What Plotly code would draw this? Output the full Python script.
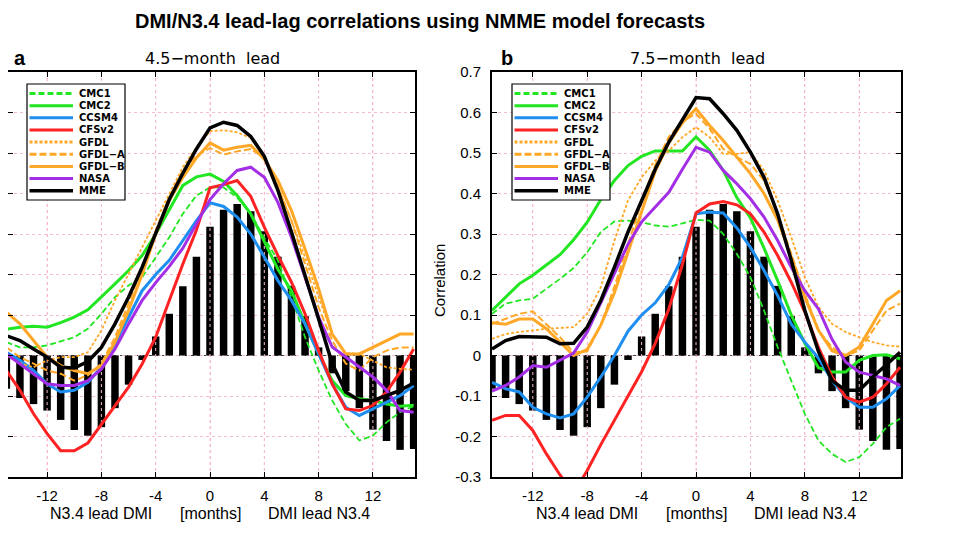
import plotly.graph_objects as go

# lag in months (negative: N3.4 leads DMI)
lags = [-15, -14, -13, -12, -11, -10, -9, -8, -7, -6, -5, -4, -3, -2, -1, 0,
        1, 2, 3, 4, 5, 6, 7, 8, 9, 10, 11, 12, 13, 14, 15]

# observed lead-lag correlation (bars), same in both panels
obs = [-0.082, -0.105, -0.12, -0.136, -0.159, -0.184, -0.198, -0.177, -0.13, -0.072, -0.011,
       0.047, 0.103, 0.171, 0.244, 0.318, 0.36, 0.374, 0.356, 0.307, 0.244, 0.172, 0.097,
       0.02, -0.044, -0.088, -0.13, -0.183, -0.211, -0.233, -0.231]

# === 4.5-month lead ===
cmc1_45 = [0.033, 0.02, 0.02, 0.025, 0.035, 0.045, 0.066, 0.103, 0.144, 0.173, 0.193, 0.243, 0.292,
           0.35, 0.395, 0.415, 0.415, 0.39, 0.35, 0.29, 0.235, 0.144, 0.045, -0.037, -0.111,
           -0.169, -0.21, -0.198, -0.165, -0.14, -0.125]
cmc2_45 = [0.065, 0.07, 0.072, 0.07, 0.081, 0.095, 0.113, 0.144, 0.177, 0.21, 0.247, 0.3, 0.36,
           0.42, 0.441, 0.448, 0.43, 0.395, 0.35, 0.283, 0.213, 0.16, 0.078, 0.004, -0.062,
           -0.099, -0.107, -0.111, -0.12, -0.125, -0.123]
ccsm4_45 = [0.008, -0.012, -0.037, -0.07, -0.09, -0.086, -0.066, -0.029, 0.029, 0.095, 0.16, 0.2,
            0.235, 0.284, 0.333, 0.377, 0.368, 0.342, 0.3, 0.243, 0.185, 0.136, 0.078, 0.004,
            -0.07, -0.128, -0.148, -0.132, -0.115, -0.099, -0.074]
cfsv2_45 = [-0.037, -0.086, -0.144, -0.193, -0.235, -0.235, -0.216, -0.169, -0.123, -0.078, -0.021,
            0.045, 0.136, 0.226, 0.31, 0.414, 0.422, 0.432, 0.393, 0.317, 0.247, 0.181, 0.103,
            0.012, -0.07, -0.132, -0.136, -0.123, -0.09, -0.041, 0.016]
gfdl_45 = [0.0, -0.019, -0.029, -0.012, -0.004, -0.004, 0.008, 0.062, 0.136, 0.2, 0.267, 0.333,
           0.4, 0.465, 0.514, 0.554, 0.556, 0.551, 0.537, 0.49, 0.416, 0.333, 0.243, 0.144, 0.053,
           0.006, 0.004, -0.012, -0.029, -0.033, -0.035]
gfdla_45 = [0.02, -0.004, -0.02, -0.037, -0.045, -0.062, -0.049, -0.02, 0.045, 0.128, 0.218, 0.309,
            0.39, 0.457, 0.494, 0.512, 0.496, 0.504, 0.51, 0.488, 0.416, 0.333, 0.226, 0.119,
            0.037, -0.02, -0.037, -0.004, 0.012, 0.02, 0.02]
gfdlb_45 = [0.107, 0.078, 0.037, -0.004, -0.025, -0.037, -0.045, -0.025, 0.033, 0.111, 0.2, 0.3,
            0.383, 0.44, 0.488, 0.525, 0.507, 0.514, 0.519, 0.485, 0.432, 0.358, 0.263, 0.165,
            0.053, 0.004, 0.004, 0.02, 0.037, 0.053, 0.053]
nasa_45 = [0.004, -0.02, -0.045, -0.07, -0.074, -0.074, -0.062, -0.033, 0.016, 0.078, 0.136, 0.18,
           0.22, 0.265, 0.325, 0.385, 0.424, 0.457, 0.465, 0.44, 0.378, 0.292, 0.193, 0.095,
           0.021, -0.004, -0.029, -0.053, -0.086, -0.136, -0.14]
mme_45 = [0.049, 0.037, 0.016, -0.004, -0.029, -0.031, -0.015, 0.02, 0.078, 0.144, 0.218, 0.3,
          0.385, 0.45, 0.51, 0.562, 0.576, 0.568, 0.541, 0.492, 0.408, 0.305, 0.2, 0.09, -0.02,
          -0.09, -0.111, -0.111, -0.099, -0.086, -0.068]

# === 7.5-month lead ===
cmc1_75 = [0.103, 0.128, 0.136, 0.14, 0.165, 0.189, 0.216, 0.255, 0.305, 0.331, 0.333, 0.329,
           0.321, 0.318, 0.326, 0.335, 0.333, 0.3, 0.251, 0.193, 0.111, 0.021, -0.062, -0.144,
           -0.21, -0.243, -0.263, -0.251, -0.218, -0.177, -0.156]
cmc2_75 = [0.111, 0.144, 0.177, 0.198, 0.224, 0.249, 0.286, 0.329, 0.385, 0.432, 0.469, 0.492,
           0.505, 0.505, 0.505, 0.54, 0.506, 0.457, 0.39, 0.34, 0.265, 0.185, 0.1, 0.03, -0.03,
           -0.041, -0.041, -0.012, 0.0, 0.002, -0.008]
ccsm4_75 = [-0.066, -0.082, -0.09, -0.128, -0.144, -0.154, -0.144, -0.103, -0.053, 0.0, 0.06, 0.1,
            0.13, 0.175, 0.243, 0.35, 0.354, 0.352, 0.315, 0.267, 0.21, 0.148, 0.078, 0.033,
            -0.006, -0.062, -0.103, -0.128, -0.128, -0.107, -0.074]
cfsv2_75 = [-0.16, -0.148, -0.148, -0.185, -0.243, -0.295, -0.34, -0.284, -0.22, -0.16, -0.1,
            -0.04, 0.03, 0.115, 0.225, 0.352, 0.374, 0.38, 0.372, 0.35, 0.305, 0.247, 0.181,
            0.107, 0.02, -0.053, -0.103, -0.115, -0.103, -0.07, -0.029]
gfdl_75 = [0.041, 0.053, 0.058, 0.062, 0.066, 0.068, 0.07, 0.103, 0.169, 0.284, 0.383, 0.44, 0.481,
           0.506, 0.539, 0.564, 0.539, 0.498, 0.498, 0.502, 0.457, 0.383, 0.292, 0.193, 0.12,
           0.078, 0.058, 0.045, 0.033, 0.025, 0.022]
gfdla_75 = [0.078, 0.09, 0.103, 0.109, 0.078, 0.045, 0.008, 0.01, 0.075, 0.17, 0.275, 0.38, 0.47,
            0.54, 0.578, 0.597, 0.56, 0.51, 0.49, 0.473, 0.432, 0.35, 0.251, 0.152, 0.062, 0.02,
            0.0, 0.012, 0.062, 0.111, 0.128]
gfdlb_75 = [0.081, 0.077, 0.09, 0.09, 0.066, 0.033, 0.0, 0.015, 0.075, 0.155, 0.255, 0.36, 0.455,
            0.525, 0.575, 0.609, 0.568, 0.531, 0.49, 0.449, 0.4, 0.335, 0.243, 0.144, 0.062,
            0.012, 0.0, 0.021, 0.078, 0.136, 0.16]
nasa_75 = [-0.088, -0.074, -0.053, -0.025, -0.029, -0.012, 0.006, 0.058, 0.13, 0.205, 0.275, 0.33,
           0.366, 0.403, 0.46, 0.514, 0.502, 0.457, 0.424, 0.387, 0.342, 0.284, 0.218, 0.16,
           0.115, 0.04, -0.016, -0.041, -0.049, -0.058, -0.074]
mme_75 = [0.016, 0.037, 0.047, 0.047, 0.045, 0.029, 0.03, 0.07, 0.136, 0.218, 0.305, 0.382, 0.46,
          0.527, 0.582, 0.637, 0.634, 0.597, 0.556, 0.502, 0.44, 0.35, 0.235, 0.111, 0.01,
          -0.062, -0.086, -0.086, -0.053, -0.021, 0.008]

models = ["CMC1", "CMC2", "CCSM4", "CFSv2", "GFDL", "GFDL−A", "GFDL−B", "NASA", "MME"]
lead45 = [cmc1_45, cmc2_45, ccsm4_45, cfsv2_45, gfdl_45, gfdla_45, gfdlb_45, nasa_45, mme_45]
lead75 = [cmc1_75, cmc2_75, ccsm4_75, cfsv2_75, gfdl_75, gfdla_75, gfdlb_75, nasa_75, mme_75]

# (colour, width, dash) per model
styles = [
    ("#22e622", 1.8, "6px,3px"),
    ("#22e622", 3, "solid"),
    ("#1e8ff0", 3, "solid"),
    ("#ff2222", 3, "solid"),
    ("#ffa726", 1.8, "3px,2px"),
    ("#ffa726", 2, "7px,3px"),
    ("#ffa726", 3, "solid"),
    ("#a32ee6", 3, "solid"),
    ("#000000", 3.5, "solid"),
]

xticks = [-12, -8, -4, 0, 4, 8, 12]
xticktext = ["-12", "-8", "-4", "0", "4", "8", "12"]
yticks = [-0.3, -0.2, -0.1, 0, 0.1, 0.2, 0.3, 0.4, 0.5, 0.6, 0.7]
yticktext = ["-0.3", "-0.2", "-0.1", "0", "0.1", "0.2", "0.3", "0.4", "0.5", "0.6", "0.7"]
yrange = [-0.3, 0.7]

# the page body adds an 8 px margin, so the figure is laid out 8 px smaller/shifted
OFF = 8
W, H = 960 - OFF, 540 - OFF
def px(x):
    return max(0.0, (x - OFF) / W)
def py(y):
    return 1 - (y - OFF) / H

grid = "#f5bccd"

fig = go.Figure()

# vertical grid lines show through the black bars in the original, so they go on top of them
grid_x, grid_y = [], []
for t in xticks:
    grid_x += [t, t, None]
    grid_y += [yrange[0], yrange[1], None]

panels = [("x", "y", lead45), ("x2", "y2", lead75)]
for xa, ya, series in panels:
    fig.add_trace(go.Bar(x=lags, y=obs, width=0.55, marker_color="black",
                         marker_line_width=0, xaxis=xa, yaxis=ya, showlegend=False))
    fig.add_trace(go.Scatter(x=grid_x, y=grid_y, mode="lines", hoverinfo="skip",
                             line=dict(color=grid, width=1, dash="3px,3px"),
                             xaxis=xa, yaxis=ya, showlegend=False))
    for name, vals, (col, w, dash) in zip(models, series, styles):
        fig.add_trace(go.Scatter(x=lags, y=vals, mode="lines", name=name,
                                 line=dict(color=col, width=w, dash=dash),
                                 xaxis=xa, yaxis=ya, showlegend=False))

axis_common = dict(showline=True, linewidth=2, linecolor="black", mirror="ticks",
                   ticks="inside", ticklen=5, tickwidth=1, tickcolor="black",
                   showgrid=True, gridcolor=grid, gridwidth=1, griddash="3px,3px",
                   zeroline=False, automargin=False,
                   tickfont=dict(family="Liberation Sans", size=15, color="black"))

yd = [py(477), py(72)]
fig.update_layout(
    width=W, height=H,
    margin=dict(l=0, r=0, t=0, b=0),
    paper_bgcolor="white", plot_bgcolor="white",
    xaxis=dict(domain=[px(OFF), px(415)], range=[-14.88, 15.1], tickvals=xticks,
               ticktext=xticktext, anchor="y", ticklabelstandoff=4, **axis_common),
    yaxis=dict(domain=yd, range=yrange, tickvals=yticks, showticklabels=False,
               anchor="x", **axis_common),
    xaxis2=dict(domain=[px(492), px(901)], range=[-15.0, 15.07], tickvals=xticks,
                ticktext=xticktext, anchor="y2", ticklabelstandoff=4, **axis_common),
    yaxis2=dict(domain=yd, range=yrange, tickvals=yticks, ticktext=yticktext,
                anchor="x2", ticklabelstandoff=6, **axis_common),
)

shapes = []
annotations = []

# dashed zero line and in-plot legend box for each panel
legend_box = {"": (27, 125, 5, 410), "2": (512, 610, 492, 409)}
for sfx in ["", "2"]:
    xd, ydm = "x" + sfx + " domain", "y" + sfx + " domain"
    bx0, bx1, left, width = legend_box[sfx]
    # positions inside the box are measured from the nominal panel edge
    xf = lambda v: (v - left) / width
    if sfx == "":
        xf = lambda v: (v - OFF) / (415 - OFF)
    shapes.append(dict(type="line", xref=xd, yref="y" + sfx, x0=0, x1=1, y0=0, y1=0,
                       line=dict(color="#444444", width=1.2, dash="4px,3px"), layer="below"))
    shapes.append(dict(type="rect", xref=xd, yref=ydm, x0=xf(bx0), x1=xf(bx1),
                       y0=1 - (200 - 72) / 405, y1=1 - (84 - 72) / 405,
                       fillcolor="white", line=dict(color="black", width=1.2), layer="above"))
    for i, (name, (col, w, dash)) in enumerate(zip(models, styles)):
        yy = 1 - (93.5 + 12.15 * i - 72) / 405
        shapes.append(dict(type="line", xref=xd, yref=ydm, x0=xf(bx0 + 2.5), x1=xf(bx0 + 46),
                           y0=yy, y1=yy,
                           line=dict(color=col, width=max(w, 3), dash=dash), layer="above"))
        annotations.append(dict(xref=xd, yref=ydm, x=xf(bx0 + 49.5), y=yy,
                                text="<b>" + name + "</b>",
                                showarrow=False, xanchor="left", yanchor="middle",
                                font=dict(family="DejaVu Sans", size=10, color="black")))
    # axis description under the tick labels
    for xv, txt in [(-8, "N3.4 lead DMI"), (0, "[months]"), (8, "DMI lead N3.4")]:
        annotations.append(dict(xref="x" + sfx, yref="paper", x=xv, y=py(513), text=txt,
                                showarrow=False, xanchor="center", yanchor="middle",
                                font=dict(family="Liberation Sans", size=16, color="black")))

annotations += [
    dict(xref="paper", yref="paper", x=px(420), y=py(21),
         text="<b>DMI/N3.4 lead-lag correlations using NMME model forecasts</b>",
         showarrow=False, xanchor="center", yanchor="middle",
         font=dict(family="Liberation Sans", size=20, color="black")),
    dict(xref="paper", yref="paper", x=px(20), y=py(58), text="<b>a</b>", showarrow=False,
         xanchor="center", yanchor="middle",
         font=dict(family="Liberation Sans", size=20, color="black")),
    dict(xref="paper", yref="paper", x=px(507), y=py(58), text="<b>b</b>", showarrow=False,
         xanchor="center", yanchor="middle",
         font=dict(family="Liberation Sans", size=20, color="black")),
    dict(xref="paper", yref="paper", x=px(212), y=py(59), text="4.5−month  lead",
         showarrow=False, xanchor="center", yanchor="middle",
         font=dict(family="DejaVu Sans", size=16, color="black")),
    dict(xref="paper", yref="paper", x=px(697), y=py(59), text="7.5−month  lead",
         showarrow=False, xanchor="center", yanchor="middle",
         font=dict(family="DejaVu Sans", size=16, color="black")),
    dict(xref="paper", yref="paper", x=px(439), y=py(281), text="Correlation",
         showarrow=False, textangle=-90, xanchor="center", yanchor="middle",
         font=dict(family="Liberation Sans", size=15, color="black")),
]

fig.update_layout(shapes=shapes, annotations=annotations)
fig.write_html("out.html")
